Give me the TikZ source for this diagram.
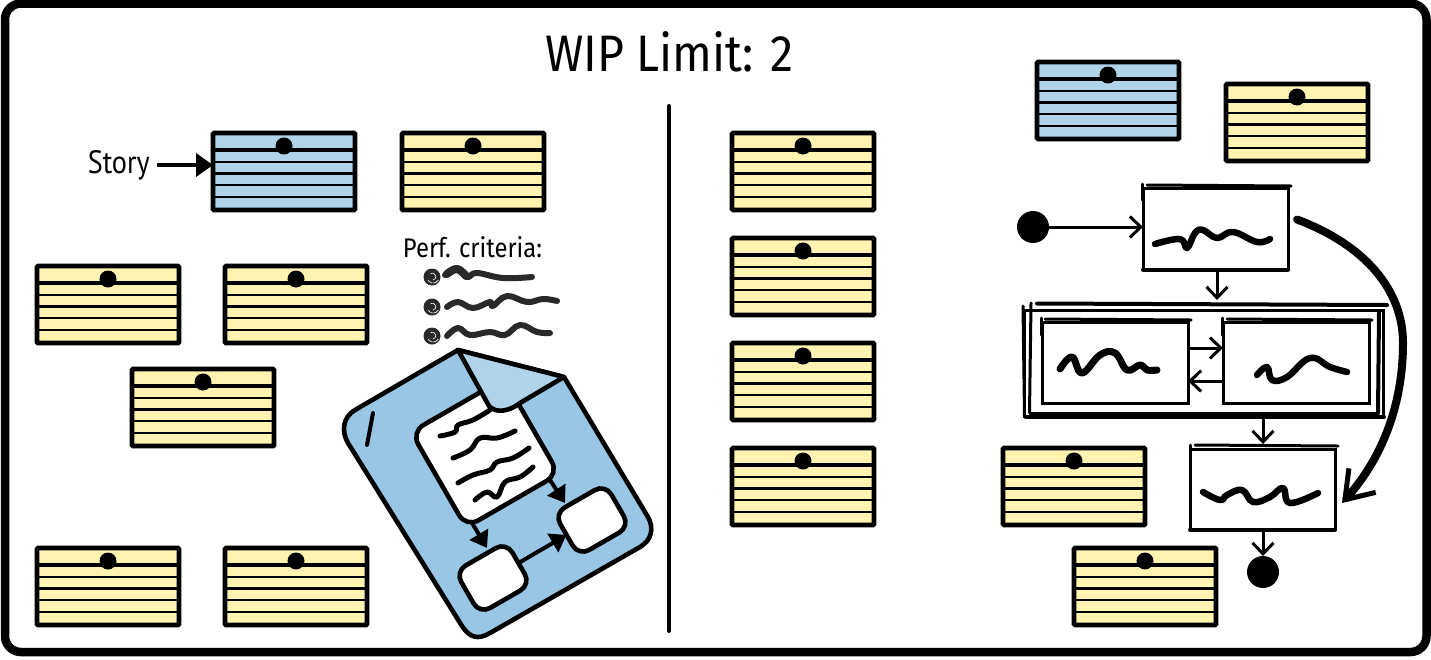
\documentclass[tikz,border=0pt]{standalone}
\usepackage{graphicx}
\usepackage{fontspec}
\setmainfont{Liberation Sans}
\newfontfamily\handfont{Fira Sans}
\newfontfamily\labelfont{PT Sans}
\usetikzlibrary{arrows.meta,calc}
\definecolor{cardyellow}{HTML}{FFF3B2}
\definecolor{cardblue}{HTML}{B0D3EA}
\definecolor{docblue}{HTML}{9AC6E5}
\definecolor{inkgrey}{HTML}{2A2829}
\tikzset{
  frameline/.style={draw=black,line width=8.5pt,rounded corners=16pt},
  cardbox/.style={draw=black,line width=4.6pt,minimum width=142pt,minimum height=77pt,inner sep=0pt,outer sep=0pt,rounded corners=1pt},
  cardpin/.style={circle,fill=black,minimum size=17pt,inner sep=0pt},
  docline/.style={draw=black,line width=4.6pt,line join=round},
  softbox/.style={draw=black,fill=white,line width=4.6pt,rounded corners=12pt,rotate=30,inner sep=0pt,outer sep=0pt},
  flowtip/.style={-{Triangle[length=16pt,width=21pt]},line width=4pt},
  statebox/.style={draw=black,fill=white,line width=3pt,inner sep=0pt,outer sep=0pt},
  sketchline/.style={line width=3pt,line cap=round},
  heavyline/.style={line width=4pt,line cap=round},
  scribble/.style={line width=6.5pt,line cap=round,line join=round,smooth,tension=0.7},
  thinscribble/.style={line width=5pt,line cap=round,line join=round,smooth,tension=0.7},
  greyscribble/.style={line width=6pt,draw=inkgrey,line cap=round,line join=round,smooth,tension=0.7},
  barb/.style={-{Straight Barb[length=11pt,width=21pt,line width=3pt]},line width=3pt},
  statedot/.style={circle,fill=black,minimum size=32pt,inner sep=0pt,outer sep=0pt},
  bulletdot/.style={circle,fill=inkgrey,minimum size=17pt,inner sep=0pt,outer sep=0pt},
}
% A story card: outlined sheet with a pinned header and ruled lines
\newcommand{\storycard}[4]{%
  \node[cardbox,fill=#4] (#1) at (#2+72,#3+39.5) {};
  \draw[line width=3.6pt] (#2+2,#3+18) -- (#2+142,#3+18);
  \foreach \ruleY in {30,41.5,53,65}
    \draw[line width=2.1pt] (#2+2,#3+\ruleY) -- (#2+142,#3+\ruleY);
  \node[cardpin] (#1-pin) at (#2+72,#3+14) {};
}
% A spiral bullet
\newcommand{\swirlbullet}[3]{%
  \node[bulletdot] (#1) at (#2,#3) {};
  \draw[white,line width=.6pt] (#2+1,#3+3) arc[start angle=-80,end angle=120,radius=3.5pt];
  \draw[white,line width=.6pt] (#2-4,#3+3) arc[start angle=-150,end angle=-30,radius=6pt];
}
\begin{document}
\begin{tikzpicture}[x=1pt,y=-1pt]
\useasboundingbox (0,0) rectangle (1431,659);
\fill[white] (0,0) rectangle (1431,659);
\draw[frameline] (5,3.5) rectangle (1426.5,652);

\node[inner sep=0pt] (title) at (669,52) {\resizebox{248pt}{40pt}{\handfont WIP Limit: 2}};

% Story cards, left column
\storycard{storyA}{212}{132}{cardblue}
\storycard{cardA}{401}{132}{cardyellow}
\storycard{cardB}{36}{265}{cardyellow}
\storycard{cardC}{224}{265}{cardyellow}
\storycard{cardD}{131}{368}{cardyellow}
\storycard{cardE}{36}{547}{cardyellow}
\storycard{cardF}{224}{547}{cardyellow}

\node[inner sep=0pt,anchor=east] (story) at (150,165) {\resizebox{62pt}{23pt}{\labelfont Story}};
\draw[-{Triangle[length=17pt,width=23pt]},line width=4pt,shorten <=7pt] (story.east) -- (story.east -| storyA.west);

% Performance criteria list
\node[inner sep=0pt] (perf) at (472.5,247.5) {\resizebox{139pt}{21pt}{\handfont Perf. criteria:}};
\swirlbullet{bulletA}{432}{277}
\swirlbullet{bulletB}{432}{307}
\swirlbullet{bulletC}{432}{336}
\draw[greyscribble] plot coordinates {(445,275) (457,268) (467,277) (477,273) (503,278) (532,277)};
\draw[greyscribble,line width=8pt] plot coordinates {(447,274) (457,269) (466,276)};
\draw[greyscribble] plot coordinates {(447,307) (458,302) (473,308) (490,302) (493,306) (507,296) (527,302) (543,299) (557,301)};
\draw[greyscribble] plot coordinates {(447,336) (458,328) (470,335) (490,332) (505,335) (520,325) (537,332) (550,333)};

% Folded document with a small flow on it
\draw[docline,fill=docblue] (458,350) -- (355,410) .. controls (343,417) and (341,431) .. (348,443)
  -- (462,626) .. controls (470,638) and (478,640) .. (490,633)
  -- (640,547) .. controls (652,540) and (654,528) .. (648,517)
  -- (564,377) -- cycle;
\draw[line width=4pt,line cap=round] (373,413) -- (367,445);
\node[softbox,minimum width=107pt,minimum height=110pt,rounded corners=14pt] (note) at (485,453) {};
\node[softbox,minimum width=59pt,minimum height=49pt] (sqA) at (493,578) {};
\node[softbox,minimum width=59pt,minimum height=49pt] (sqB) at (592,520) {};
\coordinate (noteOutA) at (472,523);
\coordinate (noteOutB) at (550,480);
\coordinate (sqAIn) at (487,548);
\coordinate (sqBIn) at (565,503);
\draw[flowtip] (noteOutA) -- (sqAIn);
\draw[flowtip] (noteOutB) -- (sqBIn);
\draw[flowtip] (sqA) -- (sqB);
\draw[docline,fill=cardblue] (458,350) -- (564,377) -- (520,403) .. controls (510,411) and (496,414) .. (489,406) -- cycle;
\draw[thinscribble] plot coordinates {(440,436) (455,432) (458,425) (473,420) (490,410)};
\draw[thinscribble] plot coordinates {(453,458) (470,450) (480,438) (497,438) (515,431)};
\draw[thinscribble] plot coordinates {(458,483) (473,475) (490,470) (497,462) (513,458) (529,448)};
\draw[thinscribble] plot coordinates {(475,500) (487,492) (497,497) (505,482) (520,477) (533,467)};

% Divider
\draw[line width=4pt,line cap=round] (669,106) -- (669,631);

% Story cards, middle column
\storycard{cardG}{731}{132}{cardyellow}
\storycard{cardH}{731}{237}{cardyellow}
\storycard{cardI}{731}{342}{cardyellow}
\storycard{cardJ}{731}{447}{cardyellow}

% Story cards, right side
\storycard{storyB}{1036}{61}{cardblue}
\storycard{cardK}{1225}{83}{cardyellow}
\storycard{cardL}{1002}{447}{cardyellow}
\storycard{cardM}{1073}{547}{cardyellow}

% Sketched flow
\node[statedot] (start) at (1033,227) {};
\node[statedot] (finish) at (1263,572) {};
\node[statebox,minimum width=145pt,minimum height=81pt] (stepA) at (1215.5,228.5) {};
\node[statebox,minimum width=359pt,minimum height=106.5pt] (group) at (1204,363.5) {};
\node[statebox,minimum width=146pt,minimum height=81pt] (stepB) at (1115,362.5) {};
\node[statebox,minimum width=146pt,minimum height=81pt] (stepC) at (1296,362.5) {};
\node[statebox,minimum width=145pt,minimum height=80pt] (stepD) at (1262.5,489) {};

% Doubled pencil strokes around the boxes
\draw[sketchline] (1147,185) -- (1291,186);
\draw[sketchline] (1142,184) -- (1142,200);
\draw[sketchline,line width=4pt] (1143,269.5) -- (1288,269.5);
\draw[heavyline] (1037,303.5) -- (1387,305);
\draw[sketchline] (1023,306) -- (1024.5,417);
\draw[sketchline] (1031,303) -- (1029.5,413);
\draw[heavyline] (1379,311) -- (1378,413);
\draw[sketchline] (1030,413) -- (1378,413);
\draw[heavyline] (1026,417) -- (1384,417);
\draw[sketchline] (1045,319) -- (1191,320);
\draw[sketchline] (1041,318) -- (1041,335);
\draw[sketchline] (1227,319) -- (1372,320);
\draw[sketchline] (1222,318) -- (1222,335);
\draw[sketchline] (1195,445) -- (1338,446);
\draw[sketchline] (1190,445) -- (1190,465);
\draw[sketchline,line width=4pt] (1190,529.5) -- (1335,529.5);

% Box captions as pen strokes
\draw[scribble] plot coordinates {(1155,244) (1180,239) (1187,248) (1195,233) (1203,230) (1217,238) (1233,232) (1257,242) (1270,239)};
\draw[scribble,line width=7pt] plot coordinates {(1060,369) (1072,357) (1082,373) (1100,355) (1115,353) (1127,370) (1140,365) (1147,370) (1157,370)};
\draw[scribble] plot coordinates {(1257,375) (1267,367) (1272,380) (1287,377) (1310,358) (1330,367) (1347,372)};
\draw[scribble] plot coordinates {(1203,492) (1220,500) (1227,495) (1242,490) (1253,502) (1270,497) (1283,488) (1290,503) (1318,493)};

% Transitions
\draw[barb] (start) -- (stepA.west |- start);
\coordinate (groupTopIn) at (1217,300);
\draw[barb] (stepA.south -| groupTopIn) -- (groupTopIn);
\draw[barb] ($(stepB.east)+(0,-14.5)$) -- ($(stepC.west)+(0,-14.5)$);
\draw[barb] ($(stepC.west)+(0,18.5)$) -- ($(stepB.east)+(0,18.5)$);
\coordinate (stepDIn) at (1263,444);
\draw[barb] (group.south -| stepDIn) -- (stepDIn);
\draw[barb] (stepD.south -| finish) -- (finish.north);
\draw[line width=8pt,line cap=round,-{Straight Barb[length=26pt,width=36pt,line width=5pt]}]
  ($(stepA.east)+(9,-9)$) .. controls (1365,245) and (1403,290) .. (1403,343)
  .. controls (1403,400) and (1385,455) .. ($(stepD.east)+(7,14)$);
\end{tikzpicture}
\end{document}
